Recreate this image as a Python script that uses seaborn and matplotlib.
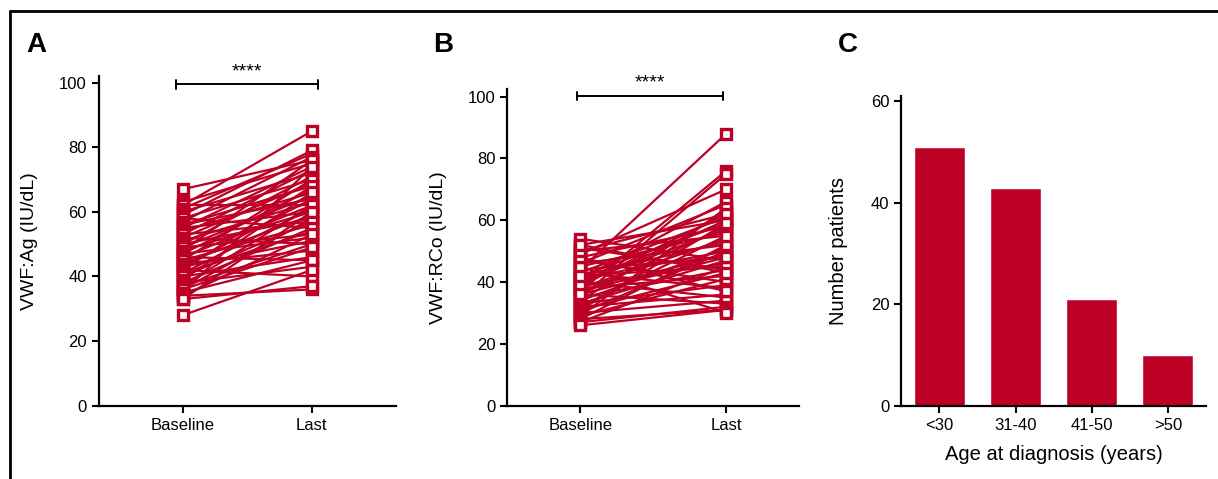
import numpy as np
import pandas as pd
import matplotlib.pyplot as plt
import seaborn as sns
from matplotlib.lines import Line2D

# ------------------------------------------------------------------------
# data
# ------------------------------------------------------------------------
TIMEPOINTS = ["Baseline", "Last"]

ag_baseline = [67, 63, 62, 62, 61, 60, 59, 58, 58, 57, 56, 56, 55, 55, 54, 53,
               53, 52, 52, 51, 50, 50, 49, 49, 48, 48, 47, 47, 46, 46, 45, 45,
               44, 44, 43, 43, 42, 42, 41, 41, 40, 40, 39, 38, 38, 37, 37, 36,
               36, 35, 35, 34, 34, 33, 33, 28]
ag_last = [76, 75, 85, 62, 78, 72, 79, 70, 55, 77, 68, 64, 74, 60, 66, 73,
           57, 69, 50, 63, 71, 58, 65, 53, 76, 60, 67, 52, 62, 45, 70, 56,
           59, 48, 64, 51, 68, 40, 61, 54, 57, 46, 66, 55, 43, 62, 50, 58,
           49, 74, 45, 36, 53, 37, 60, 42]

rco_baseline = [54, 52, 51, 50, 49, 48, 47, 46, 46, 45, 44, 44, 43, 43, 42, 42,
                41, 41, 40, 40, 39, 39, 38, 38, 37, 37, 36, 36, 35, 35, 34, 34,
                33, 33, 32, 32, 31, 31, 30, 30, 29, 29, 28, 28, 27, 27, 26, 45,
                48, 50, 52, 39, 36, 42]
rco_last = [47, 60, 44, 62, 70, 58, 40, 65, 52, 56, 88, 48, 61, 38, 53, 45,
            66, 50, 57, 35, 60, 46, 54, 42, 76, 49, 58, 33, 75, 44, 63, 51,
            47, 39, 55, 36, 59, 43, 50, 34, 64, 41, 52, 31, 45, 32, 31, 30,
            37, 55, 43, 62, 48, 59]

age_groups = ["<30", "31-40", "41-50", ">50"]
n_patients = [51, 43, 21, 10]

RED = "#BD0026"


def paired_frame(base, last):
    n = len(base)
    return pd.DataFrame({
        "patient": np.tile(np.arange(n), 2),
        "time": np.repeat(TIMEPOINTS, n),
        "value": list(base) + list(last),
    })


sns.set_theme(style="ticks")
plt.rcParams["font.family"] = ["Liberation Sans", "DejaVu Sans"]
plt.rcParams.update({
    "axes.linewidth": 1.6,
    "xtick.major.width": 1.5,
    "ytick.major.width": 1.5,
    "xtick.major.size": 5,
    "ytick.major.size": 5,
    "xtick.labelsize": 12,
    "ytick.labelsize": 12,
    "xtick.color": "black",
    "ytick.color": "black",
    "text.color": "black",
    "axes.labelcolor": "black",
    "axes.edgecolor": "black",
})

fig = plt.figure(figsize=(12.18, 4.79), dpi=100)
axA = fig.add_axes([0.081, 0.153, 0.244, 0.688])
axB = fig.add_axes([0.4165, 0.153, 0.2397, 0.661])
axC = fig.add_axes([0.740, 0.153, 0.250, 0.647])

# ------------------------------------------------------------------------
# panels A and B: paired baseline / last values
# ------------------------------------------------------------------------
paired = [
    (axA, paired_frame(ag_baseline, ag_last), "VWF:Ag (IU/dL)", (-0.65, 1.65), 102, (-0.05, 1.05), 99.5),
    (axB, paired_frame(rco_baseline, rco_last), "VWF:RCo (IU/dL)", (-0.5, 1.5), 102.4, (-0.02, 0.98), 100.2),
]
for ax, df, ylab, xlim, ytop, (bx0, bx1), by in paired:
    sns.lineplot(data=df, x="time", y="value", units="patient", estimator=None,
                 sort=False, color=RED, linewidth=1.6, marker="s", markersize=7,
                 markerfacecolor="white", markeredgecolor=RED,
                 markeredgewidth=2.4, legend=False, ax=ax)
    ax.set_xlim(*xlim)
    ax.set_ylim(0, ytop)
    ax.set_yticks([0, 20, 40, 60, 80, 100])
    ax.set_xticks([0, 1])
    ax.set_xticklabels(TIMEPOINTS)
    ax.set_xlabel("")
    ax.set_ylabel(ylab, fontsize=14)
    ax.yaxis.set_label_coords(-0.205, 0.5)
    # significance bracket
    ax.plot([bx0, bx1], [by, by], color="black", lw=1.4, clip_on=False)
    for bx in (bx0, bx1):
        ax.plot([bx, bx], [by - 1.4, by + 1.4], color="black", lw=1.4, clip_on=False)
    ax.text((bx0 + bx1) / 2, by + 1.3, "****", ha="center", va="bottom",
            fontsize=14, clip_on=False)
    sns.despine(ax=ax)

# ------------------------------------------------------------------------
# panel C: age at diagnosis
# ------------------------------------------------------------------------
df_age = pd.DataFrame({"age": age_groups, "n": n_patients})
sns.barplot(data=df_age, x="age", y="n", color=RED, saturation=1, width=0.667,
            errorbar=None, ax=axC)
axC.set_xlim(-0.5, 3.5)
axC.set_ylim(0, 61.1)
axC.set_yticks([0, 20, 40, 60])
narrow = ["Liberation Sans Narrow", "DejaVu Sans Condensed", "Liberation Sans"]
axC.set_ylabel("Number patients", fontsize=14.5, family=narrow)
axC.set_xlabel("Age at diagnosis (years)", fontsize=14.5, family=narrow,
               labelpad=9)
axC.yaxis.set_label_coords(-0.176, 0.5)
sns.despine(ax=axC)

# panel letters and frame
for letter, x in (("A", 0.022), ("B", 0.356), ("C", 0.688)):
    fig.text(x, 1 - 32 / 479, letter, fontsize=20, fontweight="bold",
             ha="left", va="top")
fig.add_artist(Line2D([9.5 / 1218, 1], [1 - 10.5 / 479, 1 - 10.5 / 479],
                      color="black", lw=2, transform=fig.transFigure))
fig.add_artist(Line2D([9.5 / 1218, 9.5 / 1218], [0, 1 - 10.5 / 479],
                      color="black", lw=2, transform=fig.transFigure))

fig.savefig("out.png", dpi=100)
